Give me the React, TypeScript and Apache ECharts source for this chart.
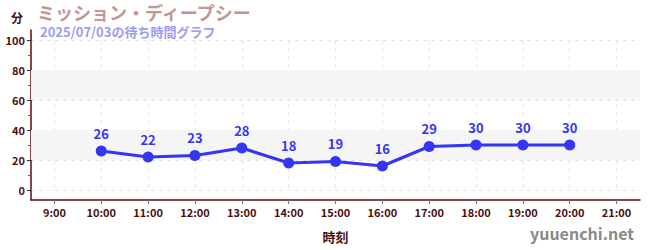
import React, { useEffect, useRef } from "react";
import * as echarts from "echarts";

const hours = ["9:00", "10:00", "11:00", "12:00", "13:00", "14:00", "15:00", "16:00", "17:00", "18:00", "19:00", "20:00", "21:00"];
const waitTimes: (number | null)[] = [null, 26, 22, 23, 28, 18, 19, 16, 29, 30, 30, 30, null];
const bands: [number, number][] = [[20, 40], [60, 80]];
const titleText = "ミッション・ディープシー";
const subText = "2025/07/03の待ち時間グラフ";

const FONT = "'Noto Sans CJK JP', 'Noto Sans', sans-serif";
const AXIS_RED = "#5c0a0a";
const LABEL = "#4a1010";

export default function App() {
  const ref = useRef<HTMLDivElement>(null);
  useEffect(() => {
    if (!ref.current) return;
    const chart = echarts.init(ref.current, undefined, { renderer: "svg" });
    chart.setOption({
      animation: false,
      textStyle: { fontFamily: FONT },
      grid: [
        { left: 31, right: 10, top: 40, bottom: 60 },
        { left: 31, right: 10, top: 30, bottom: 50 },
      ],
      xAxis: [
        {
          type: "category",
          gridIndex: 0,
          data: hours,
          axisLine: { show: false },
          axisTick: { show: false },
          axisLabel: { show: false },
          splitLine: { show: true, alignWithLabel: true, lineStyle: { color: "#e6e6e6", type: [4, 4] } },
        },
        {
          type: "category",
          gridIndex: 1,
          data: hours,
          name: "時刻",
          nameLocation: "middle",
          nameGap: 30,
          nameTextStyle: { fontSize: 13, fontWeight: "bold", color: LABEL, fontFamily: FONT },
          axisLine: { show: true, lineStyle: { color: AXIS_RED, width: 1.5 } },
          axisTick: { show: true, alignWithLabel: true, length: 4, lineStyle: { color: "#777" } },
          axisLabel: { fontSize: 11, fontWeight: "bold", color: LABEL, margin: 6, fontFamily: FONT },
          splitLine: { show: false },
        },
      ],
      yAxis: [
        {
          type: "value",
          gridIndex: 0,
          min: 0,
          max: 100,
          interval: 20,
          name: "分",
          nameLocation: "end",
          nameGap: 17,
          nameTextStyle: { fontSize: 12, fontWeight: "bold", color: LABEL, align: "right", padding: [0, 8, 0, 0], fontFamily: FONT },
          axisLine: { show: false },
          axisTick: { show: true, length: 4, lineStyle: { color: "#333" } },
          minorTick: { show: true, splitNumber: 2, length: 3, lineStyle: { color: "#dd2222" } },
          axisLabel: { fontSize: 11, fontWeight: "bold", color: LABEL, margin: 6, fontFamily: FONT },
          splitLine: { show: true, lineStyle: { color: "#e6e6e6", type: [4, 4] } },
        },
        {
          type: "value",
          gridIndex: 1,
          min: 0,
          max: 1,
          axisLine: { show: true, lineStyle: { color: AXIS_RED, width: 1.5 } },
          axisTick: { show: false },
          axisLabel: { show: false },
          splitLine: { show: false },
        },
      ],
      series: [
        {
          type: "line",
          xAxisIndex: 0,
          yAxisIndex: 0,
          data: waitTimes,
          connectNulls: false,
          symbol: "circle",
          symbolSize: 11,
          lineStyle: { color: "#3535f5", width: 3 },
          itemStyle: { color: "#3535f5" },
          label: {
            show: true,
            position: "top",
            distance: 6,
            fontSize: 13,
            fontWeight: "bold",
            color: "#3535f5",
            fontFamily: FONT,
          },
          markArea: {
            silent: true,
            itemStyle: { color: "#f5f5f5" },
            data: bands.map(([a, b]) => [{ yAxis: a }, { yAxis: b }]),
          },
          z: 3,
        },
      ],
      graphic: [
        {
          type: "text",
          left: 37,
          top: 3,
          style: { text: titleText, fontSize: 18, fontWeight: "bold", fill: "#c49595", fontFamily: FONT },
        },
        {
          type: "text",
          left: 40,
          top: 25,
          style: { text: subText, fontSize: 13, fontWeight: "bold", fill: "#9c9cf2", fontFamily: FONT },
        },
        {
          type: "text",
          right: 16,
          top: 225,
          style: { text: "yuuenchi.net", fontSize: 16, fontWeight: "bold", fill: "#8a8a8a", fontFamily: FONT },
        },
      ],
    });
    return () => chart.dispose();
  }, []);
  return <div ref={ref} style={{ width: 650, height: 250, position: "absolute", left: 0, top: 0 }} />;
}
